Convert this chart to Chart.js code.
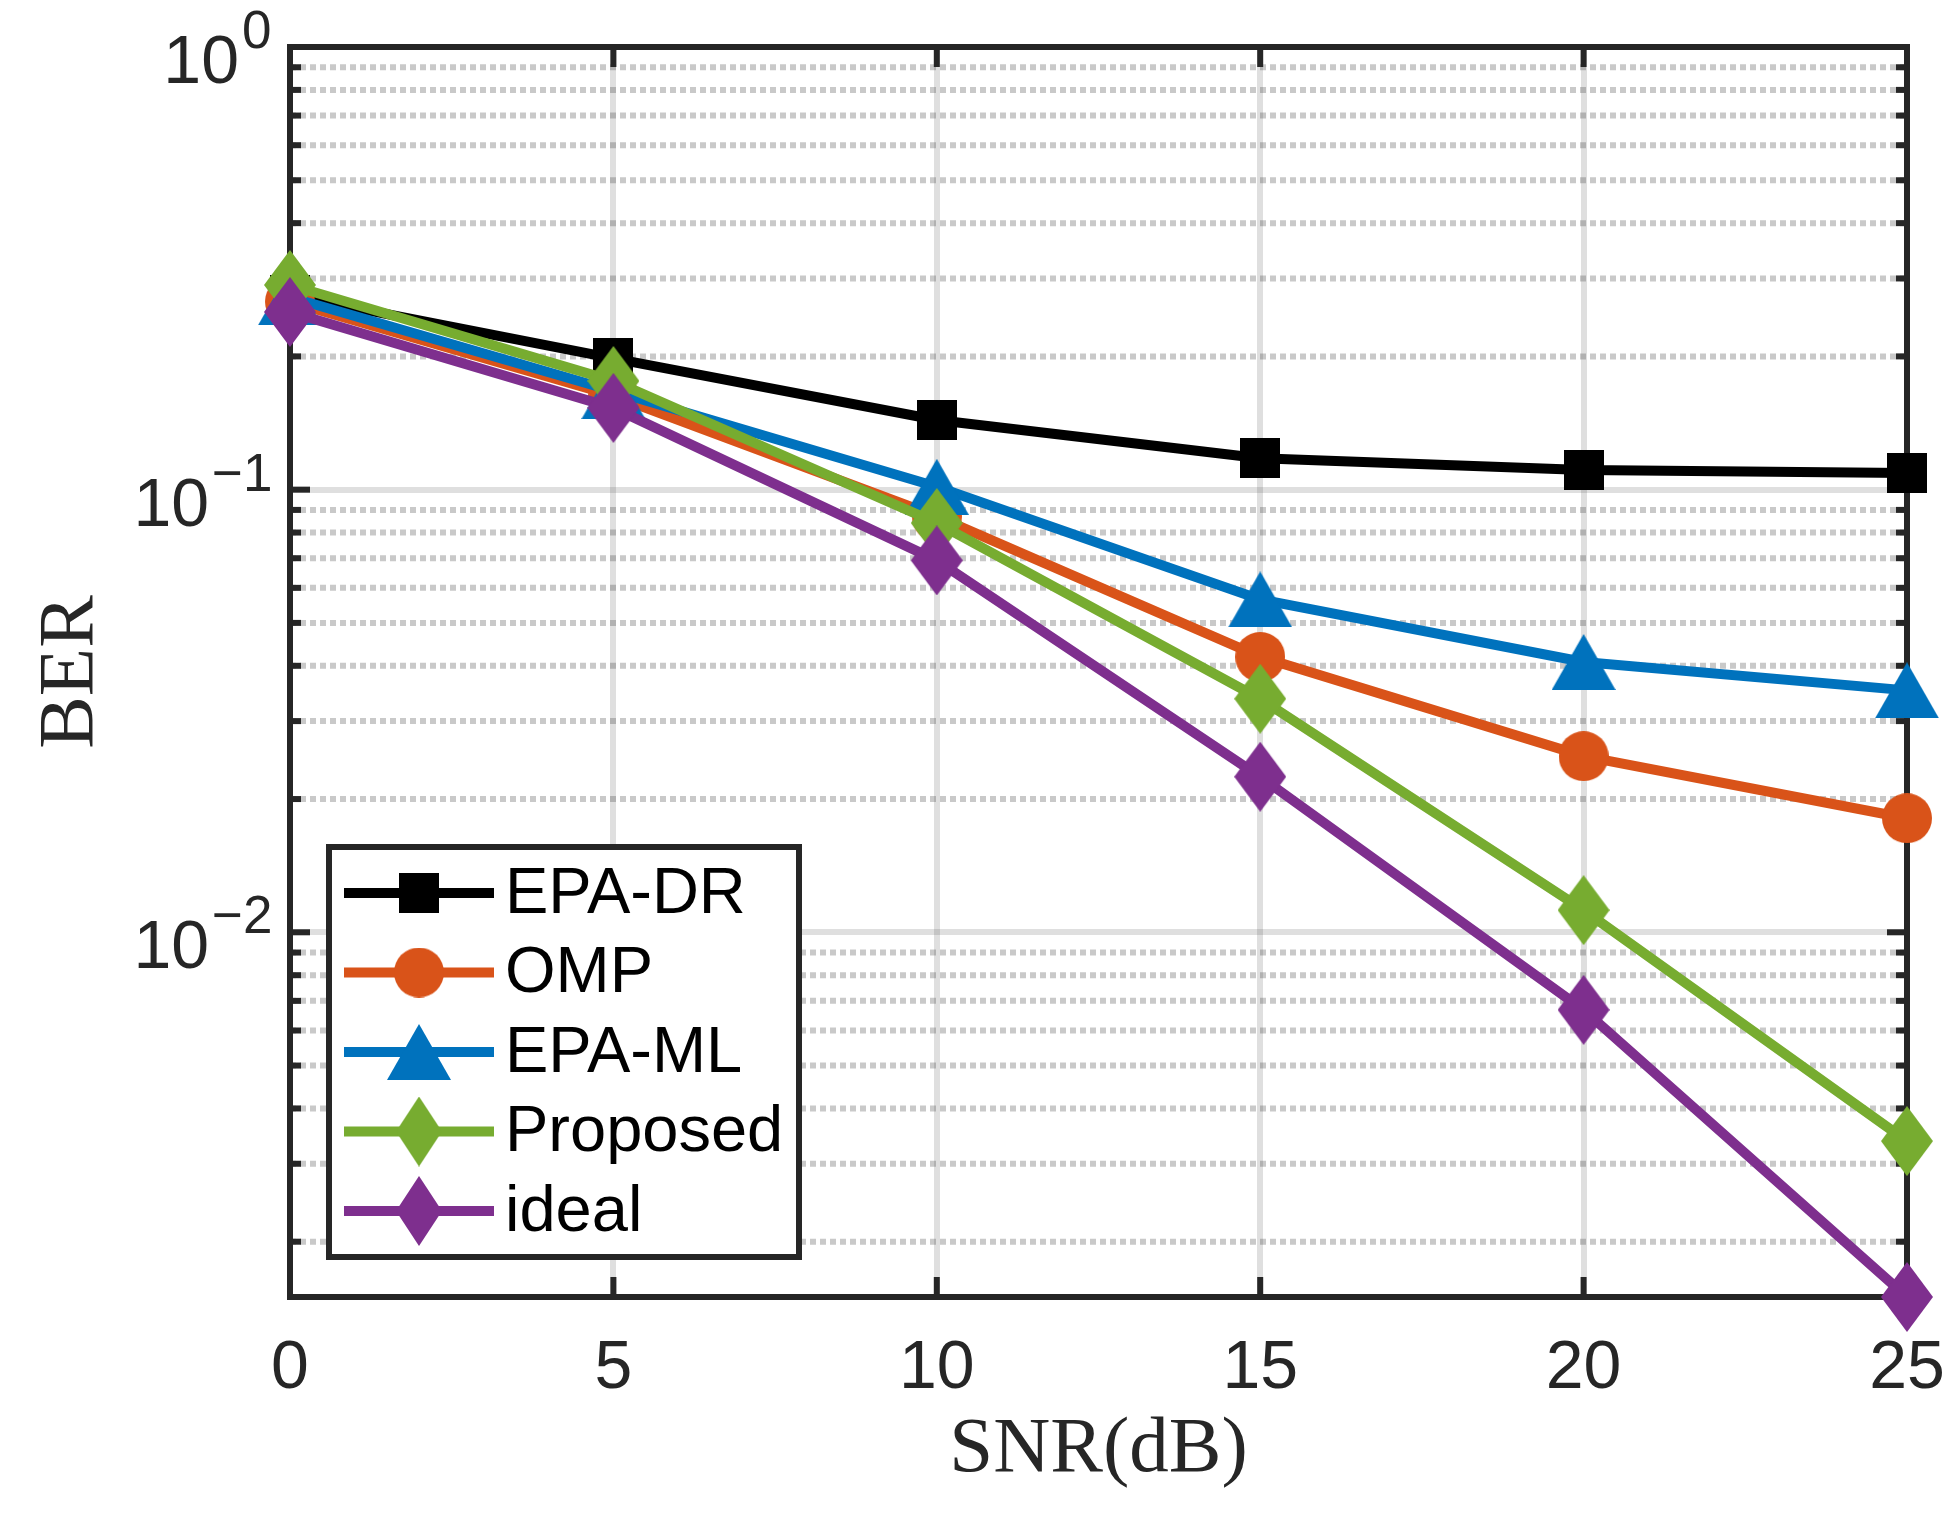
<!DOCTYPE html>
<html>
<head>
<meta charset="utf-8">
<script src="https://cdn.jsdelivr.net/npm/chart.js@4.4.1/dist/chart.umd.min.js"></script>
<style>
  html, body { margin: 0; padding: 0; background: #fff; }
  canvas { display: block; }
</style>
</head>
<body>
<canvas id="ber" width="1953" height="1536"></canvas>
<script>
// values (BER vs SNR)
const snr = [0, 5, 10, 15, 20, 25];
const epaDR = [0.275, 0.198, 0.1437, 0.1177, 0.1108, 0.109];
const omp = [0.266, 0.163, 0.087, 0.0419, 0.0250, 0.0181];
const epaML = [0.272, 0.167, 0.1015, 0.0565, 0.0408, 0.0352];
const proposed = [0.290, 0.176, 0.0841, 0.0337, 0.01122, 0.003375];
const ideal = [0.252, 0.153, 0.0692, 0.02246, 0.00668, 0.0015];

const xTicks = [0, 5, 10, 15, 20, 25];
const yDecades = [1, 0.1, 0.01];
const yExponents = ['0', '\u22121', '\u22122'];
const yMinorTicks = [0.002, 0.003, 0.004, 0.005, 0.006, 0.007, 0.008, 0.009,
  0.02, 0.03, 0.04, 0.05, 0.06, 0.07, 0.08, 0.09,
  0.2, 0.3, 0.4, 0.5, 0.6, 0.7, 0.8, 0.9];

const INK = '#262626';
const SANS = '"Liberation Sans", Arial, Helvetica, sans-serif';
const SERIF = '"Liberation Serif", "Times New Roman", serif';

const mk = (shape, color, w, h) => {
  const c = document.createElement('canvas');
  c.width = w; c.height = h;
  const g = c.getContext('2d');
  g.fillStyle = color;
  g.beginPath();
  if (shape === 'square') g.rect(0, 0, w, h);
  else if (shape === 'circle') g.arc(w / 2, h / 2, w / 2, 0, Math.PI * 2);
  else if (shape === 'triangle') { g.moveTo(w / 2, 0); g.lineTo(w, h); g.lineTo(0, h); g.closePath(); }
  else { g.moveTo(w / 2, 0); g.lineTo(w, h / 2); g.lineTo(w / 2, h); g.lineTo(0, h / 2); g.closePath(); }
  g.fill();
  return c;
};

const series = [
  { name: 'EPA-DR', data: epaDR, color: '#000000', marker: mk('square', '#000000', 40, 40), legendMarker: mk('square', '#000000', 40, 40) },
  { name: 'OMP', data: omp, color: '#D95319', marker: mk('circle', '#D95319', 50, 50), legendMarker: mk('circle', '#D95319', 50, 50) },
  { name: 'EPA-ML', data: epaML, color: '#0072BD', marker: mk('triangle', '#0072BD', 64, 56), legendMarker: mk('triangle', '#0072BD', 64, 56) },
  { name: 'Proposed', data: proposed, color: '#77AC30', marker: mk('diamond', '#77AC30', 52, 70), legendMarker: mk('diamond', '#77AC30', 46, 70) },
  { name: 'ideal', data: ideal, color: '#7E2F8E', marker: mk('diamond', '#7E2F8E', 52, 70), legendMarker: mk('diamond', '#7E2F8E', 46, 70) }
];

// grid dots, axis box, inward ticks and 10^n labels
const frame = {
  id: 'frame',
  beforeDatasetsDraw(chart) {
    const { ctx, chartArea: a, scales: { x, y } } = chart;
    ctx.save();
    ctx.strokeStyle = 'rgba(38,38,38,0.25)';
    ctx.lineWidth = 6;
    ctx.setLineDash([6, 4]);
    yMinorTicks.forEach(v => {
      const py = y.getPixelForValue(v);
      ctx.beginPath(); ctx.moveTo(a.left, py); ctx.lineTo(a.right, py); ctx.stroke();
    });
    ctx.setLineDash([]);
    ctx.strokeStyle = INK;
    ctx.lineWidth = 6;
    const tick = (x1, y1, x2, y2) => { ctx.beginPath(); ctx.moveTo(x1, y1); ctx.lineTo(x2, y2); ctx.stroke(); };
    yDecades.concat(yMinorTicks).forEach(v => {
      const py = y.getPixelForValue(v);
      const len = yDecades.includes(v) ? 20 : 11;
      tick(a.left, py, a.left + len, py);
      tick(a.right, py, a.right - len, py);
    });
    xTicks.forEach(v => {
      const px = x.getPixelForValue(v);
      tick(px, a.bottom, px, a.bottom - 20);
      tick(px, a.top, px, a.top + 20);
    });
    ctx.strokeRect(a.left, a.top, a.right - a.left, a.bottom - a.top);

    ctx.fillStyle = INK;
    ctx.textBaseline = 'alphabetic';
    yDecades.forEach((v, i) => {
      const py = y.getPixelForValue(v);
      ctx.font = '53px ' + SANS;
      ctx.textAlign = 'left';
      const m = ctx.measureText(yExponents[i]);
      const ex = a.left - 20 - m.actualBoundingBoxRight;
      ctx.fillText(yExponents[i], ex, py + 1);
      ctx.font = '68px ' + SANS;
      ctx.textAlign = 'right';
      ctx.fillText('10', ex - 3, py + 36);
    });
    ctx.restore();
  }
};

const legendBox = {
  id: 'legendBox',
  afterDatasetsDraw(chart) {
    const { ctx, chartArea: a } = chart;
    const bx = a.left + 39, by = a.bottom - 450, bw = 470, bh = 410;
    ctx.save();
    ctx.fillStyle = '#fff';
    ctx.fillRect(bx, by, bw, bh);
    ctx.strokeStyle = INK;
    ctx.lineWidth = 6;
    ctx.strokeRect(bx, by, bw, bh);
    series.forEach((s, i) => {
      const ry = by + 46 + i * 79.5;
      ctx.strokeStyle = s.color;
      ctx.lineWidth = 10;
      ctx.beginPath(); ctx.moveTo(bx + 15, ry); ctx.lineTo(bx + 165, ry); ctx.stroke();
      const img = s.legendMarker;
      ctx.drawImage(img, bx + 90 - img.width / 2, ry - img.height / 2);
      ctx.fillStyle = '#000';
      ctx.font = '65px ' + SANS;
      ctx.textAlign = 'left';
      ctx.textBaseline = 'middle';
      ctx.fillText(s.name, bx + 176, ry + 2);
    });
    ctx.restore();
  }
};

new Chart(document.getElementById('ber'), {
  type: 'line',
  data: {
    datasets: series.map((s, i) => ({
      label: s.name,
      data: snr.map((x, k) => ({ x, y: s.data[k] })),
      borderColor: s.color,
      backgroundColor: s.color,
      borderWidth: 10,
      tension: 0,
      pointStyle: s.marker,
      pointRadius: 10,
      pointHoverRadius: 10,
      pointBorderWidth: 0,
      order: series.length - i,
      clip: false
    }))
  },
  options: {
    responsive: false,
    devicePixelRatio: 1,
    animation: false,
    events: [],
    layout: { padding: { left: 0, top: 47, right: 46, bottom: 0 } },
    plugins: { legend: { display: false }, tooltip: { enabled: false } },
    scales: {
      x: {
        type: 'linear', min: 0, max: 25,
        afterBuildTicks: s => { s.ticks = xTicks.map(v => ({ value: v })); },
        afterFit: s => { s.height = 239; s.paddingLeft = 0; s.paddingRight = 0; },
        grid: { color: 'rgba(38,38,38,0.15)', lineWidth: 6, drawTicks: false },
        border: { display: false },
        ticks: { font: { family: SANS, size: 68 }, color: INK, padding: 31, maxRotation: 0, autoSkip: false },
        title: { display: true, text: 'SNR(dB)', font: { family: SERIF, size: 79 }, color: INK, padding: { top: 0, bottom: 38 } }
      },
      y: {
        type: 'logarithmic', min: 0.0015, max: 1,
        afterBuildTicks: s => { s.ticks = yDecades.concat(yMinorTicks).map(v => ({ value: v })); },
        afterFit: s => { s.width = 290; s.paddingTop = 0; s.paddingBottom = 0; },
        grid: {
          color: c => (c.tick && yDecades.includes(c.tick.value)) ? 'rgba(38,38,38,0.15)' : 'rgba(0,0,0,0)',
          lineWidth: 6, drawTicks: false
        },
        border: { display: false },
        ticks: { display: false },
        title: { display: true, text: 'BER', font: { family: SERIF, size: 79 }, color: INK, padding: { top: 24, bottom: 0 } }
      }
    }
  },
  plugins: [frame, legendBox]
});
</script>
</body>
</html>
